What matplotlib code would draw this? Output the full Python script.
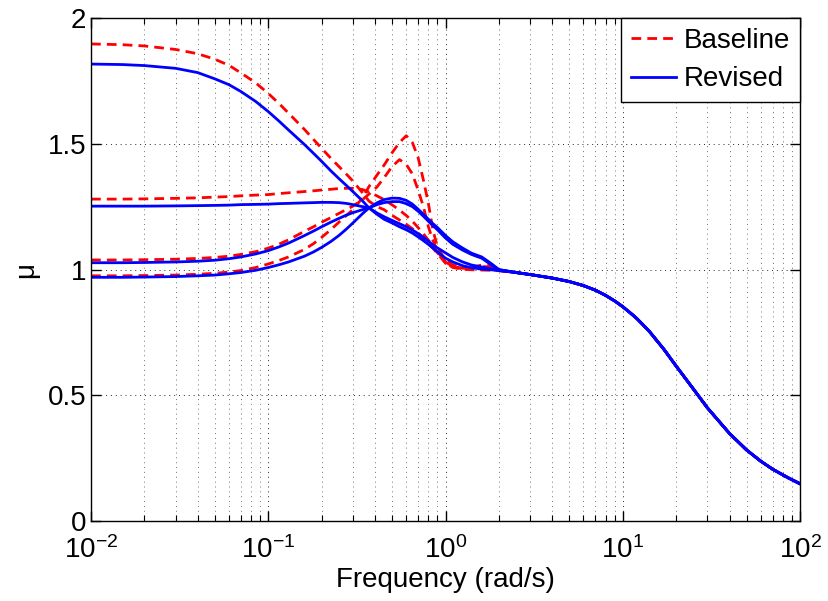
import matplotlib
matplotlib.use('Agg')
import matplotlib.pyplot as plt
from matplotlib.ticker import LogLocator, NullLocator, FixedLocator

# frequencies (rad/s) where curves were read, low/mid band
freq_low = [0.01, 0.015, 0.02, 0.03, 0.04, 0.05, 0.06, 0.07, 0.085, 0.1,
            0.115, 0.13, 0.16, 0.18, 0.2, 0.225, 0.25, 0.275, 0.3, 0.34, 0.37,
            0.41, 0.45, 0.5, 0.55, 0.6, 0.65, 0.7, 0.75, 0.8, 0.85, 0.9, 1.0,
            1.1, 1.25, 1.4, 1.6, 1.8, 2.0]
# high band, all curves coincide
freq_tail = [2.5, 3, 4, 5, 6, 7, 8, 9, 10, 11, 12, 14, 17, 20, 25, 30, 40,
             50, 60, 70, 85, 100]
mu_tail = [0.988, 0.980, 0.966, 0.952, 0.936, 0.918, 0.897, 0.875, 0.852,
           0.828, 0.805, 0.757, 0.684, 0.616, 0.525, 0.450, 0.348, 0.282,
           0.238, 0.206, 0.173, 0.148]

# Baseline (red dashed)
base_1 = [1.897, 1.894, 1.889, 1.875, 1.858, 1.836, 1.812, 1.782, 1.742, 1.700,
          1.660, 1.622, 1.557, 1.517, 1.482, 1.443, 1.410, 1.380, 1.352, 1.305,
          1.272,
          1.250, 1.238, 1.215, 1.197, 1.180, 1.162, 1.145, 1.125, 1.104, 1.084,
          1.064, 1.025, 1.010, 1.003, 1.005, 1.012, 1.010, 0.997]
base_2 = [1.280, 1.280, 1.281, 1.283, 1.285, 1.288, 1.290, 1.293, 1.296, 1.298,
          1.302, 1.305, 1.310, 1.313, 1.316, 1.319, 1.322, 1.323, 1.323, 1.318,
          1.308,
          1.293, 1.278, 1.257, 1.236, 1.215, 1.192, 1.167, 1.142, 1.117, 1.092,
          1.067, 1.030, 1.012, 1.005, 1.008, 1.018, 1.015, 0.998]
base_3 = [1.038, 1.038, 1.039, 1.041, 1.044, 1.048, 1.053, 1.060, 1.071, 1.085,
          1.101, 1.118, 1.152, 1.170, 1.188, 1.206, 1.223, 1.238, 1.252, 1.278,
          1.300,
          1.328, 1.365, 1.410, 1.437, 1.418, 1.380, 1.316, 1.250, 1.170, 1.115,
          1.072, 1.027, 1.008, 1.001, 0.999, 0.998, 0.997, 0.995]
base_4 = [0.975, 0.975, 0.976, 0.978, 0.981, 0.985, 0.990, 0.996, 1.008, 1.022,
          1.036, 1.050, 1.080, 1.103, 1.128, 1.158, 1.188, 1.214, 1.238, 1.285,
          1.330,
          1.375, 1.415, 1.465, 1.505, 1.532, 1.505, 1.445, 1.356, 1.263, 1.155,
          1.090, 1.035, 1.018, 1.007, 1.003, 1.003, 1.000, 0.996]

# Revised (blue solid)
rev_1 = [1.817, 1.815, 1.811, 1.800, 1.783, 1.758, 1.735, 1.708, 1.668, 1.628,
         1.590, 1.555, 1.497, 1.462, 1.430, 1.393, 1.362, 1.335, 1.310, 1.273,
         1.245,
         1.220, 1.200, 1.185, 1.170, 1.158, 1.145, 1.130, 1.115, 1.100, 1.085,
         1.070, 1.045, 1.030, 1.015, 1.007, 1.002, 0.999, 0.996]
rev_2 = [1.252, 1.252, 1.252, 1.253, 1.254, 1.255, 1.256, 1.258, 1.259, 1.260,
         1.262, 1.263, 1.265, 1.266, 1.267, 1.267, 1.266, 1.263, 1.258, 1.250,
         1.245,
         1.225, 1.210, 1.195, 1.182, 1.170, 1.157, 1.143, 1.128, 1.113, 1.098,
         1.086, 1.066, 1.048, 1.030, 1.018, 1.010, 1.003, 0.997]
rev_3 = [1.027, 1.027, 1.028, 1.030, 1.033, 1.037, 1.043, 1.050, 1.062, 1.075,
         1.090, 1.105, 1.135, 1.153, 1.170, 1.188, 1.203, 1.216, 1.226, 1.238,
         1.245,
         1.265, 1.278, 1.284, 1.283, 1.275, 1.260, 1.240, 1.220, 1.200, 1.182,
         1.167, 1.135, 1.110, 1.085, 1.065, 1.050, 1.025, 1.000]
rev_4 = [0.969, 0.969, 0.970, 0.972, 0.975, 0.978, 0.983, 0.988, 0.997, 1.008,
         1.019, 1.030, 1.053, 1.070, 1.088, 1.111, 1.135, 1.160, 1.185, 1.222,
         1.245,
         1.258, 1.266, 1.270, 1.270, 1.262, 1.250, 1.232, 1.212, 1.192, 1.174,
         1.158, 1.125, 1.100, 1.077, 1.060, 1.045, 1.020, 0.999]

baseline = [base_1, base_2, base_3, base_4]
revised = [rev_1, rev_2, rev_3, rev_4]

plt.rcParams['font.family'] = ['Liberation Sans', 'DejaVu Sans']
plt.rcParams['mathtext.fontset'] = 'custom'
plt.rcParams['mathtext.rm'] = 'Liberation Sans'
plt.rcParams['mathtext.it'] = 'Liberation Sans:italic'
plt.rcParams['mathtext.default'] = 'regular'

fig = plt.figure(figsize=(8.29, 6.01), dpi=100)
ax = fig.add_axes([0.1098, 0.1331, 0.8553, 0.8369])

freq = freq_low + freq_tail
for i, mu in enumerate(baseline):
    ax.semilogx(freq, mu + mu_tail, color='red', lw=2.0,
                linestyle=(0, (3.5, 2.2)),
                label='Baseline' if i == 0 else None)
for i, mu in enumerate(revised):
    ax.semilogx(freq, mu + mu_tail, color='blue', lw=2.0,
                label='Revised' if i == 0 else None)

ax.set_xlim(1e-2, 1e2)
ax.set_ylim(0, 2)
ax.xaxis.set_major_locator(LogLocator(base=10, numticks=10))
ax.xaxis.set_minor_locator(LogLocator(base=10, subs=range(2, 10), numticks=50))
ax.yaxis.set_major_locator(FixedLocator([0, 0.5, 1, 1.5, 2]))
ax.yaxis.set_minor_locator(NullLocator())
ax.set_yticklabels(['0', '0.5', '1', '1.5', '2'])

ax.grid(True, which='major', linestyle=(0, (1, 4)), color='0.15', lw=0.7)
ax.grid(True, which='minor', axis='x', linestyle=(0, (1, 4)), color='0.45', lw=0.7)

ax.tick_params(which='both', direction='in', top=True, right=True, labelsize=20)
ax.tick_params(which='major', length=7, width=1)
ax.tick_params(which='minor', length=4, width=0.8)
ax.tick_params(axis='x', pad=11)
for sp in ax.spines.values():
    sp.set_linewidth(1.0)

ax.set_xlabel('Frequency (rad/s)', fontsize=20, labelpad=2)
ax.set_ylabel('μ', fontsize=20, labelpad=6)

leg = ax.legend(loc='upper right', fontsize=20, fancybox=False, framealpha=1,
                edgecolor='black', borderaxespad=0.0, handlelength=1.6,
                handletextpad=0.3, labelspacing=0.45, borderpad=0.35)
leg.get_frame().set_linewidth(1.0)

fig.savefig('out.png', dpi=100)
